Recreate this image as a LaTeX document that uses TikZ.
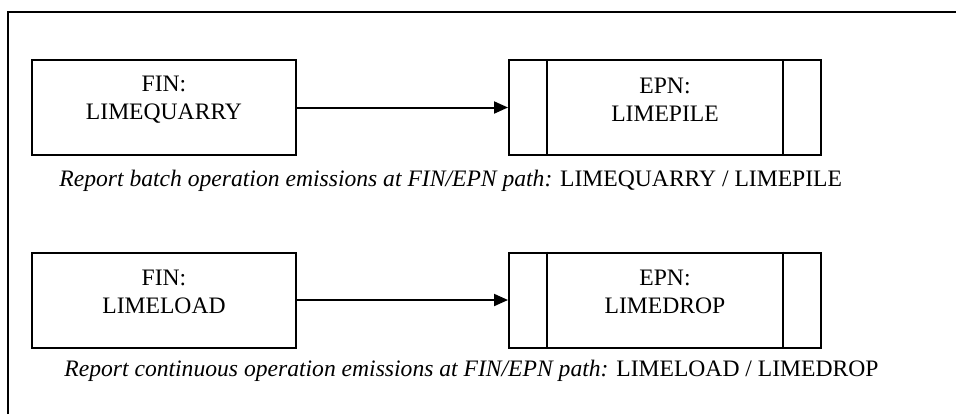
\documentclass[tikz,border=0pt]{standalone}
\usepackage{fontspec}
\setmainfont{Liberation Serif}
\usetikzlibrary{arrows.meta,positioning}
\tikzset{
  unitbox/.style={draw,line width=1pt,minimum width=132pt,minimum height=47.5pt,inner sep=0pt},
  pointbox/.style={draw,line width=1pt,minimum width=156pt,minimum height=47.5pt,inner sep=0pt},
  boxtext/.style={align=center,font=\fontsize{11.8}{14}\selectfont,inner sep=0pt},
  pathtext/.style={anchor=base west,font=\fontsize{11.8}{14}\selectfont,inner sep=0pt},
  flow/.style={line width=1pt,-{Triangle[length=7pt,width=6pt]}}
}
\begin{document}
\begin{tikzpicture}[x=0.5pt,y=-0.5pt]
  \useasboundingbox (0,0) rectangle (956,414);
  % frame
  \draw[line width=1pt](8,414)--(8,12)--(956,12);
  % first pair
  \node[unitbox](fin1) at (164,107.5){};
  \node[boxtext](fin1txt) at ([yshift=4pt]fin1.center){FIN:\\LIMEQUARRY};
  \node[pointbox](epn1) at (665,107.5){};
  \draw[line width=1pt]([xshift=19.5pt]epn1.north west)--([xshift=19.5pt]epn1.south west);
  \draw[line width=1pt]([xshift=-19.5pt]epn1.north east)--([xshift=-19.5pt]epn1.south east);
  \node[boxtext](epn1txt) at ([yshift=4pt]epn1.center){EPN:\\LIMEPILE};
  \draw[flow](fin1.east)--(epn1.west);
  \node[pathtext](path1) at (59,186){\textit{Report batch operation emissions at FIN/EPN path:} LIMEQUARRY / LIMEPILE};
  % second pair
  \node[unitbox](fin2) at (164,300){};
  \node[boxtext](fin2txt) at ([yshift=4pt]fin2.center){FIN:\\LIMELOAD};
  \node[pointbox](epn2) at (665,300){};
  \draw[line width=1pt]([xshift=19.5pt]epn2.north west)--([xshift=19.5pt]epn2.south west);
  \draw[line width=1pt]([xshift=-19.5pt]epn2.north east)--([xshift=-19.5pt]epn2.south east);
  \node[boxtext](epn2txt) at ([yshift=4pt]epn2.center){EPN:\\LIMEDROP};
  \draw[flow](fin2.east)--(epn2.west);
  \node[pathtext](path2) at (64,376){\textit{Report continuous operation emissions at FIN/EPN path:} LIMELOAD / LIMEDROP};
\end{tikzpicture}
\end{document}
